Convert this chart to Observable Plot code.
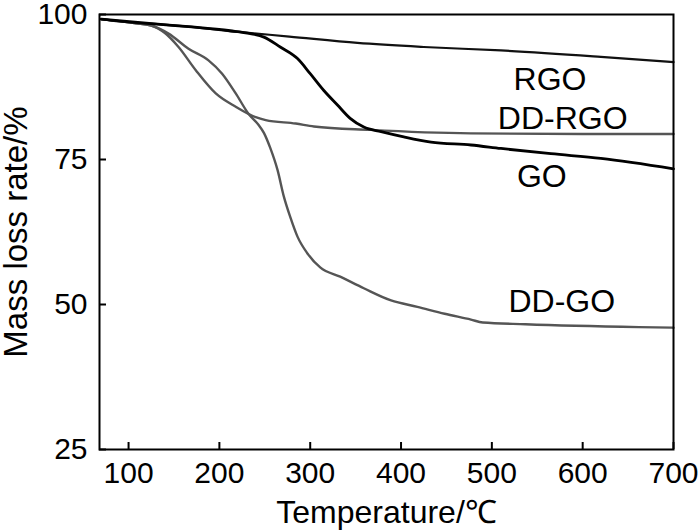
<!DOCTYPE html>
<html><head><meta charset="utf-8">
<script src="https://cdn.jsdelivr.net/npm/d3@7"></script>
<script src="https://cdn.jsdelivr.net/npm/@observablehq/plot@0.6"></script>
<style>body{margin:0;background:#fff}</style>
</head><body><div id="chart"></div>
<script>
const xTicks = [100, 200, 300, 400, 500, 600, 700];
const yTicks = [25, 50, 75, 100];

const rgoT = [70, 90, 135, 166, 221, 277, 352, 425, 510, 620, 700];
const rgoMass = [99.2, 98.8, 98.3, 97.9, 97.0, 96.2, 95.1, 94.4, 93.8, 92.7, 91.8];

const goT = [70, 135, 166, 212, 234, 249, 267, 286, 300, 315, 330, 344, 359, 378, 403, 433, 477, 510, 565, 620, 700];
const goMass = [99.2, 98.3, 97.9, 97.2, 96.7, 96.1, 94.4, 92.4, 89.8, 86.9, 84.4, 82.1, 80.6, 79.8, 78.9, 78.0, 77.5, 76.9, 76.0, 75.2, 73.4];

const ddrgoT = [70, 108, 125, 140, 155, 174, 196, 218, 240, 251, 284, 304, 366, 477, 600, 700];
const ddrgoMass = [99.2, 98.5, 98.1, 96.8, 94.4, 90.4, 86.4, 84.1, 82.3, 81.8, 81.2, 80.7, 80.1, 79.5, 79.4, 79.4];

const ddgoT = [70, 108, 125, 144, 166, 188, 203, 218, 232, 243, 249, 256, 264, 271, 278, 286, 297, 311, 333, 359, 389, 418, 448, 477, 490, 537, 662, 700];
const ddgoMass = [99.2, 98.5, 98.1, 96.7, 94.1, 92.1, 89.8, 86.4, 82.9, 81.0, 79.6, 77.0, 73.2, 68.6, 65.1, 61.7, 58.8, 56.4, 54.8, 52.8, 50.7, 49.6, 48.4, 47.4, 46.9, 46.6, 46.1, 46.0];

const labelNames = ["RGO", "DD-RGO", "GO", "DD-GO"];
const labelT = [564, 578, 555, 577];
const labelMass = [88.8, 82.0, 72.0, 50.4];

function rows(T, V) { return T.map((t, i) => ({t, v: V[i]})); }

const font = '"Liberation Sans", Arial, sans-serif';
const chart = Plot.plot({
  width: 700, height: 531,
  marginTop: 14, marginBottom: 82, marginLeft: 99, marginRight: 27,
  style: {fontFamily: font, fontSize: "30px", background: "#fff", color: "#000", overflow: "visible"},
  x: {domain: [68, 700]},
  y: {domain: [25, 100]},
  marks: [
    Plot.axisX(xTicks, {tickSize: 0, tickPadding: 12, label: null, fontSize: 30}),
    Plot.axisX(xTicks, {tickSize: 7, dy: -7, tickFormat: () => "", label: null, strokeWidth: 2}),
    Plot.axisY(yTicks, {tickSize: 0, tickPadding: 12, label: null, fontSize: 30}),
    Plot.axisY(yTicks, {tickSize: 7, dx: 7, tickFormat: () => "", label: null, strokeWidth: 2}),
    Plot.line(rows(ddrgoT, ddrgoMass), {x: "t", y: "v", stroke: "#555", strokeWidth: 2.4, curve: "monotone-x"}),
    Plot.line(rows(ddgoT, ddgoMass), {x: "t", y: "v", stroke: "#555", strokeWidth: 2.4, curve: "monotone-x"}),
    Plot.line(rows(rgoT, rgoMass), {x: "t", y: "v", stroke: "#111", strokeWidth: 2.2, curve: "monotone-x"}),
    Plot.line(rows(goT, goMass), {x: "t", y: "v", stroke: "#000", strokeWidth: 2.8, curve: "monotone-x"}),
    Plot.frame({strokeWidth: 2}),
    Plot.text(labelNames, {x: (d, i) => labelT[i], y: (d, i) => labelMass[i], text: d => d, fontSize: 32}),
    Plot.text(["Temperature/℃"], {frameAnchor: "bottom", lineAnchor: "middle", textAnchor: "middle", dy: 63, text: d => d, fontSize: 32}),
    Plot.text(["Mass loss rate/%"], {frameAnchor: "left", textAnchor: "middle", lineAnchor: "middle", rotate: -90, dx: -83, text: d => d, fontSize: 33})
  ]
});
document.getElementById("chart").appendChild(chart);
</script>
</body></html>
